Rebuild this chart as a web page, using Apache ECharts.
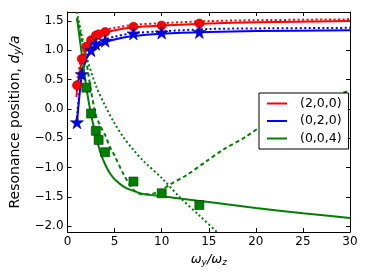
<!DOCTYPE html>
<html><head><meta charset="utf-8">
<script src="https://cdn.jsdelivr.net/npm/echarts@6/dist/echarts.min.js"></script>
<style>html,body{margin:0;padding:0;background:#fff}#c{width:366px;height:274px}</style>
</head><body><div id="c"></div>
<script>
// ---- data ----
const xTicks = [0, 5, 10, 15, 20, 25, 30];
const yTicks = [-2.0, -1.5, -1.0, -0.5, 0.0, 0.5, 1.0, 1.5];
const legendNames = ['(2,0,0)', '(0,2,0)', '(0,0,4)'];

// markers (simulation points)
const redPtsX = [1, 1.5, 2, 2.5, 3, 3.3, 4, 7, 10, 14];
const redPtsY = [0.40, 0.85, 1.06, 1.17, 1.25, 1.27, 1.31, 1.40, 1.42, 1.455];
const bluePtsX = [1, 1.5, 2.5, 3, 4, 7, 10, 14];
const bluePtsY = [-0.23, 0.59, 1.00, 1.11, 1.16, 1.285, 1.30, 1.31];
const greenPtsX = [2, 2.5, 3, 3.3, 4, 7, 10, 14];
const greenPtsY = [0.36, -0.08, -0.375, -0.53, -0.74, -1.24, -1.44, -1.64];

// curves
const redSolidX = [0.95, 1, 1.5, 2, 2.5, 3, 4, 5, 7, 10, 15, 20, 30];
const redSolidY = [0.20, 0.30, 0.80, 1.02, 1.13, 1.20, 1.29, 1.34, 1.39, 1.42, 1.455, 1.475, 1.495];
const redDotX = [1, 1.5, 2, 3, 4, 5, 7, 10, 15, 20, 30];
const redDotY = [0.45, 0.90, 1.10, 1.27, 1.34, 1.38, 1.43, 1.46, 1.495, 1.51, 1.525];
const blueSolidX = [1, 1.5, 2, 2.5, 3, 4, 5, 7, 10, 15, 20, 30];
const blueSolidY = [-0.25, 0.55, 0.85, 0.97, 1.04, 1.13, 1.18, 1.24, 1.28, 1.31, 1.325, 1.34];
const blueDotX = [1, 1.5, 2, 3, 4, 5, 7, 10, 15, 20, 30];
const blueDotY = [-0.15, 0.60, 0.90, 1.10, 1.18, 1.23, 1.29, 1.32, 1.36, 1.37, 1.38];
const greenSolidX = [1, 1.5, 2, 2.5, 3, 3.5, 4, 4.5, 5, 6, 7, 8, 10, 13, 15, 20, 25, 30];
const greenSolidY = [1.55, 0.95, 0.36, -0.10, -0.45, -0.75, -0.95, -1.10, -1.20, -1.33, -1.40, -1.45, -1.49, -1.55, -1.59, -1.69, -1.78, -1.86];
const greenDashX = [1, 1.5, 2, 2.5, 3, 3.5, 4, 4.5, 5, 6, 7, 8, 9, 10, 11, 12.65, 14.7, 16.5, 18.9, 20.5, 25, 30];
const greenDashY = [1.55, 1.20, 0.80, 0.30, -0.10, -0.30, -0.45, -0.65, -0.80, -1.13, -1.38, -1.46, -1.45, -1.38, -1.28, -1.13, -0.90, -0.70, -0.48, -0.31, 0.03, 0.31];
const greenDotX = [1, 2, 3, 4, 5, 6, 7, 8, 10, 12, 14, 16, 16.5];
const greenDotY = [1.65, 0.90, 0.40, 0.05, -0.25, -0.50, -0.70, -0.88, -1.18, -1.52, -1.82, -2.12, -2.2];

const RED = '#ff0000', BLUE = '#0000ff', GREEN = '#008000';
const pairs = (xs, ys) => xs.map((x, i) => [x, ys[i]]);
const FONT = 'DejaVu Sans';
const STAR = 'path://M50,0 L61,35 L98,35 L68,57 L79,91 L50,70 L21,91 L32,57 L2,35 L39,35 Z';
const fmtY = v => (v < 0 ? '\u2212' : '') + Math.abs(v).toFixed(1);

function line(name, xs, ys, color, type) {
  return { name, type: 'line', data: pairs(xs, ys), smooth: 0.3, showSymbol: false, symbol: 'none',
    lineStyle: { color, width: 2, type }, itemStyle: { color }, clip: true, silent: true, z: 2 };
}
function pts(name, xs, ys, color, symbol, size, border) {
  return { name, type: 'scatter', data: pairs(xs, ys), symbol, symbolSize: size,
    itemStyle: { color, borderColor: border, borderWidth: 0.6, opacity: 1 }, z: 3, silent: true };
}

const chart = echarts.init(document.getElementById('c'), null, { renderer: 'canvas' });
const axisCommon = {
  type: 'value',
  axisLine: { show: true, onZero: false, lineStyle: { color: '#000', width: 1 } },
  splitLine: { show: false },
};
chart.setOption({
  animation: false,
  backgroundColor: '#fff',
  grid: { left: 56, right: 16, top: 12, bottom: 42, containLabel: false },
  legend: {
    data: legendNames, orient: 'vertical', left: 259, top: 93,
    backgroundColor: '#fff', borderColor: '#000', borderWidth: 1, borderRadius: 0,
    padding: [4, 7, 4, 8], itemGap: 4.5, itemWidth: 20, itemHeight: 2, icon: 'rect',
    textStyle: { fontFamily: FONT, fontSize: 12.5, color: '#000', padding: [0, 0, 0, 8] },
    selectedMode: false
  },
  xAxis: [
    Object.assign({}, axisCommon, {
      min: 0, max: 30, position: 'bottom',
      axisTick: { show: true, inside: true, length: 4, customValues: xTicks, lineStyle: { color: '#000' } },
      axisLabel: { show: true, customValues: xTicks, margin: 4, fontFamily: FONT, fontSize: 12, color: '#000' },
      name: '{i|ω}{s|y}{i|/ω}{s|z}', nameLocation: 'middle', nameGap: 15,
      nameTextStyle: { rich: {
        i: { fontFamily: FONT, fontStyle: 'italic', fontSize: 13, color: '#000' },
        s: { fontFamily: FONT, fontStyle: 'italic', fontSize: 9, color: '#000', padding: [7, 0, 0, 0] }
      } }
    }),
    Object.assign({}, axisCommon, {
      min: 0, max: 30, position: 'top',
      axisTick: { show: true, inside: true, length: 4, customValues: xTicks, lineStyle: { color: '#000' } },
      axisLabel: { show: false }
    })
  ],
  yAxis: [
    Object.assign({}, axisCommon, {
      min: -2.1, max: 1.65, position: 'left',
      axisTick: { show: true, inside: true, length: 4, customValues: yTicks, lineStyle: { color: '#000' } },
      axisLabel: { show: true, customValues: yTicks, formatter: fmtY, margin: 4, fontFamily: FONT, fontSize: 12, color: '#000' },
      name: 'Resonance position, {i|d}{s|y}{i|/a}', nameLocation: 'middle', nameGap: 36,
      nameTextStyle: { fontFamily: FONT, fontSize: 14, color: '#000', rich: {
        i: { fontFamily: FONT, fontStyle: 'italic', fontSize: 14, color: '#000' },
        s: { fontFamily: FONT, fontStyle: 'italic', fontSize: 10, color: '#000', padding: [7, 0, 0, 0] }
      } }
    }),
    Object.assign({}, axisCommon, {
      min: -2.1, max: 1.65, position: 'right',
      axisTick: { show: true, inside: true, length: 4, customValues: yTicks, lineStyle: { color: '#000' } },
      axisLabel: { show: false }
    })
  ],
  series: [
    line('redDot', redDotX, redDotY, RED, [2, 2.5]),
    line('blueDot', blueDotX, blueDotY, BLUE, [2, 2.5]),
    line('greenDot', greenDotX, greenDotY, GREEN, [2, 2.5]),
    line('greenDash', greenDashX, greenDashY, GREEN, [4, 3]),
    line(legendNames[0], redSolidX, redSolidY, RED, 'solid'),
    line(legendNames[1], blueSolidX, blueSolidY, BLUE, 'solid'),
    line(legendNames[2], greenSolidX, greenSolidY, GREEN, 'solid'),
    pts('redPts', redPtsX, redPtsY, RED, 'circle', 9, '#b00000'),
    pts('bluePts', bluePtsX, bluePtsY, BLUE, STAR, 13, '#000060'),
    pts('greenPts', greenPtsX, greenPtsY, GREEN, 'rect', 9, '#003000')
  ]
});
</script></body></html>
